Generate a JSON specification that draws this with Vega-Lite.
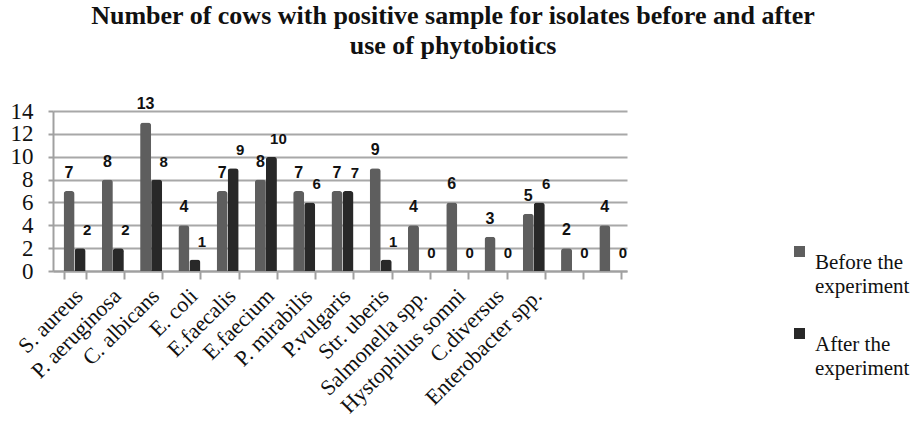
{
  "$schema": "https://vega.github.io/schema/vega-lite/v6.json",
  "width": 574,
  "height": 160,
  "autosize": {"type": "none"},
  "padding": {"left": 53, "top": 111, "right": 286, "bottom": 161},
  "background": "white",
  "config": {
    "view": {"stroke": null},
    "style": {"guide-label": {"lineHeight": 24}}
  },
  "title": {
    "text": ["Number of cows with positive sample for isolates before and after", "use of phytobiotics"],
    "font": "Liberation Serif",
    "fontSize": 26,
    "fontWeight": "bold",
    "color": "#111111",
    "anchor": "middle",
    "frame": "group",
    "dx": 113,
    "offset": 37,
    "lineHeight": 30
  },
  "data": {
    "values": [
      {"isolate": "S. aureus", "phase": "Before the experiment", "count": 7},
      {"isolate": "S. aureus", "phase": "After the experiment", "count": 2},
      {"isolate": "P. aeruginosa", "phase": "Before the experiment", "count": 8},
      {"isolate": "P. aeruginosa", "phase": "After the experiment", "count": 2},
      {"isolate": "C. albicans", "phase": "Before the experiment", "count": 13},
      {"isolate": "C. albicans", "phase": "After the experiment", "count": 8},
      {"isolate": "E. coli", "phase": "Before the experiment", "count": 4},
      {"isolate": "E. coli", "phase": "After the experiment", "count": 1},
      {"isolate": "E.faecalis", "phase": "Before the experiment", "count": 7},
      {"isolate": "E.faecalis", "phase": "After the experiment", "count": 9},
      {"isolate": "E.faecium", "phase": "Before the experiment", "count": 8},
      {"isolate": "E.faecium", "phase": "After the experiment", "count": 10},
      {"isolate": "P. mirabilis", "phase": "Before the experiment", "count": 7},
      {"isolate": "P. mirabilis", "phase": "After the experiment", "count": 6},
      {"isolate": "P.vulgaris", "phase": "Before the experiment", "count": 7},
      {"isolate": "P.vulgaris", "phase": "After the experiment", "count": 7},
      {"isolate": "Str. uberis", "phase": "Before the experiment", "count": 9},
      {"isolate": "Str. uberis", "phase": "After the experiment", "count": 1},
      {"isolate": "Salmonella spp.", "phase": "Before the experiment", "count": 4},
      {"isolate": "Salmonella spp.", "phase": "After the experiment", "count": 0},
      {"isolate": "Hystophilus somni", "phase": "Before the experiment", "count": 6},
      {"isolate": "Hystophilus somni", "phase": "After the experiment", "count": 0},
      {"isolate": "C.diversus", "phase": "Before the experiment", "count": 3},
      {"isolate": "C.diversus", "phase": "After the experiment", "count": 0},
      {"isolate": "Enterobacter spp.", "phase": "Before the experiment", "count": 5},
      {"isolate": "Enterobacter spp.", "phase": "After the experiment", "count": 6},
      {"isolate": "g14", "phase": "Before the experiment", "count": 2},
      {"isolate": "g14", "phase": "After the experiment", "count": 0},
      {"isolate": "g15", "phase": "Before the experiment", "count": 4},
      {"isolate": "g15", "phase": "After the experiment", "count": 0}
    ]
  },
  "encoding": {
    "x": {
      "field": "isolate",
      "type": "nominal",
      "sort": null,
      "scale": {"paddingInner": 0.425, "paddingOuter": 0.2125, "align": 0.65},
      "axis": {
        "title": null,
        "labelExpr": "datum.value == 'g14' || datum.value == 'g15' ? '' : datum.value",
        "labelAngle": -45,
        "labelAlign": "right",
        "labelBaseline": "middle",
        "labelFont": "Liberation Serif",
        "labelFontSize": 22,
        "labelColor": "#111111",
        "labelPadding": 13,
        "labelOffset": 4,
        "labelOverlap": false,
        "domainColor": "#a0a0a0",
        "domainWidth": 2,
        "tickColor": "#a0a0a0",
        "tickWidth": 2,
        "tickBand": "extent",
        "tickSize": 8,
        "grid": false
      }
    },
    "xOffset": {"field": "phase", "type": "nominal", "sort": ["Before the experiment", "After the experiment"]},
    "y": {
      "field": "count",
      "type": "quantitative",
      "scale": {"domain": [0, 14]},
      "axis": {
        "title": null,
        "values": [0, 2, 4, 6, 8, 10, 12, 14],
        "labelFont": "Liberation Serif",
        "labelFontSize": 23,
        "labelColor": "#111111",
        "labelPadding": 15,
        "labelOverlap": false,
        "labelFlush": false,
        "gridColor": "#a8a8a8",
        "gridWidth": 2,
        "domainColor": "#a0a0a0",
        "domainWidth": 2,
        "tickColor": "#a0a0a0",
        "tickWidth": 2,
        "tickSize": 5
      }
    }
  },
  "layer": [
    {
      "mark": {"type": "bar", "cornerRadiusTopLeft": 3, "cornerRadiusTopRight": 3},
      "encoding": {
        "color": {
          "field": "phase",
          "type": "nominal",
          "sort": ["Before the experiment", "After the experiment"],
          "scale": {"domain": ["Before the experiment", "After the experiment"], "range": ["#5e5e5e", "#282828"]},
          "legend": {
            "title": null,
            "orient": "none",
            "legendX": 736,
            "legendY": 130,
            "labelExpr": "datum.label == 'Before the experiment' ? ['Before the', 'experiment'] : ['After the', 'experiment']",
            "labelFont": "Liberation Serif",
            "labelFontSize": 21,
            "labelColor": "#111111",
            "labelBaseline": "top",
            "labelOffset": 5,
            "symbolType": "square",
            "symbolSize": 121,
            "symbolOpacity": 1,
            "symbolStrokeWidth": 0,
            "rowPadding": 26,
            "labelLimit": 200
          }
        }
      }
    },
    {
      "transform": [{"filter": "datum.phase == 'Before the experiment'"}],
      "mark": {"type": "text", "font": "Liberation Sans", "fontWeight": "bold", "fontSize": 16, "baseline": "middle", "dy": -18, "dx": 0, "color": "#111111"},
      "encoding": {"text": {"field": "count", "type": "quantitative"}}
    },
    {
      "transform": [{"filter": "datum.phase == 'After the experiment'"}],
      "mark": {"type": "text", "font": "Liberation Sans", "fontWeight": "bold", "fontSize": 15, "baseline": "middle", "dy": -18, "dx": 7, "color": "#111111"},
      "encoding": {"text": {"field": "count", "type": "quantitative"}}
    }
  ]
}
